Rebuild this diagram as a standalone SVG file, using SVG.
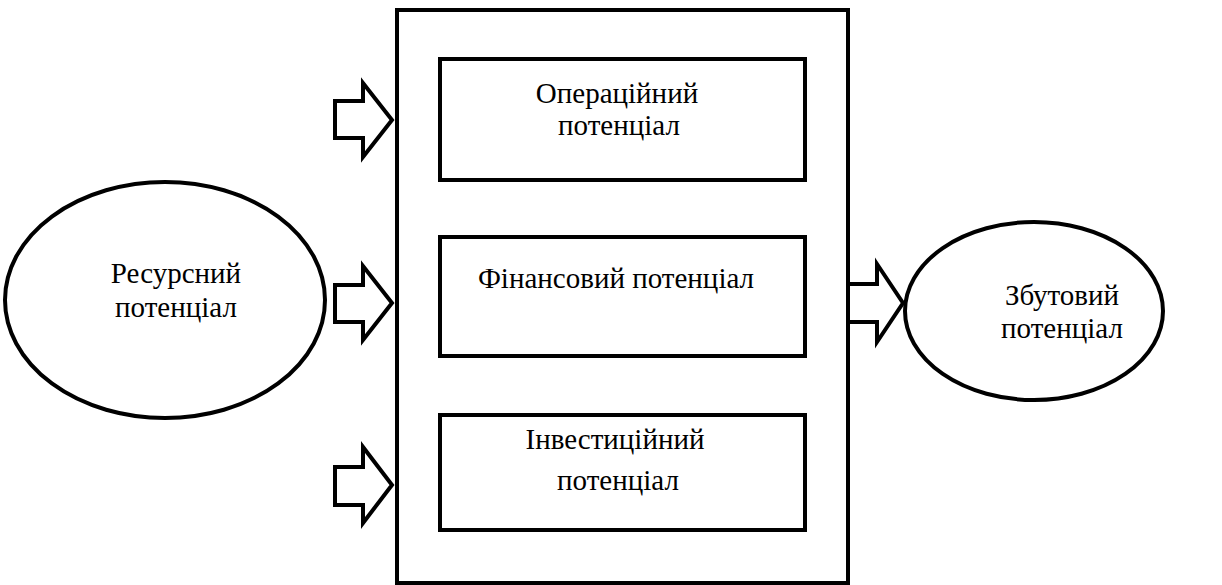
<svg xmlns="http://www.w3.org/2000/svg" width="1222" height="585" viewBox="0 0 1222 585">
<rect width="1222" height="585" fill="#fff"/>
<g id="outer"><rect x="397" y="10" width="451" height="573" fill="#fff" stroke="#000" stroke-width="4"/></g>
<g id="operational"><rect x="440" y="59" width="365" height="121" fill="#fff" stroke="#000" stroke-width="4"/><text x="617" y="103" font-family="Liberation Serif" font-size="29" text-anchor="middle">Операційний</text><text x="619" y="135" font-family="Liberation Serif" font-size="29" text-anchor="middle">потенціал</text></g>
<g id="financial"><rect x="440" y="237" width="365" height="119" fill="#fff" stroke="#000" stroke-width="4"/><text x="616" y="288" font-family="Liberation Serif" font-size="29" text-anchor="middle">Фінансовий потенціал</text></g>
<g id="investment"><rect x="440" y="415" width="365" height="115" fill="#fff" stroke="#000" stroke-width="4"/><text x="615" y="449" font-family="Liberation Serif" font-size="29" text-anchor="middle">Інвестиційний</text><text x="618" y="490" font-family="Liberation Serif" font-size="29" text-anchor="middle">потенціал</text></g>
<g id="resource"><ellipse cx="165" cy="300" rx="160" ry="118" fill="#fff" stroke="#000" stroke-width="4"/><text x="176" y="283" font-family="Liberation Serif" font-size="29" text-anchor="middle">Ресурсний</text><text x="176" y="317" font-family="Liberation Serif" font-size="29" text-anchor="middle">потенціал</text></g>
<g id="sales"><ellipse cx="1034" cy="311" rx="129" ry="89" fill="#fff" stroke="#000" stroke-width="4"/><text x="1062" y="305" font-family="Liberation Serif" font-size="29" text-anchor="middle">Збутовий</text><text x="1062" y="338" font-family="Liberation Serif" font-size="29" text-anchor="middle">потенціал</text></g>
<g id="connectors" fill="#fff" stroke="#000" stroke-width="4">
<polygon points="335,101 363,101 363,83 392,120 363,157 363,138 335,138"/>
<polygon points="335,285 363,285 363,266 392,303 363,340 363,322 335,322"/>
<polygon points="335,467 363,467 363,447 392,485 363,523 363,505 335,505"/>
<polygon points="848,284 877,284 877,264 903,303 877,342 877,322 848,322"/>
</g>
</svg>
